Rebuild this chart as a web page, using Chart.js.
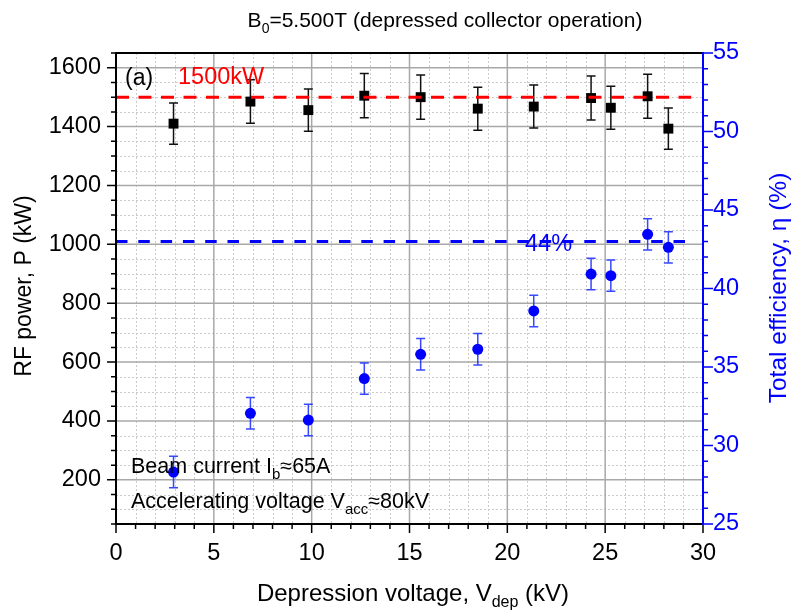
<!DOCTYPE html>
<html><head><meta charset="utf-8">
<script src="https://cdn.jsdelivr.net/npm/chart.js@4.4.1/dist/chart.umd.min.js"></script>
<style>html,body{margin:0;padding:0;background:#fff}canvas{display:block}</style>
</head><body>
<canvas id="c" width="794" height="613"></canvas>
<script>
// ---------- data ----------
const depVoltage   = [2.94, 6.87, 9.83, 12.69, 15.57, 18.49, 21.35, 24.28, 25.29, 27.17, 28.23];
const rfPower      = [1410, 1485, 1456, 1505, 1500, 1461, 1468, 1497, 1464, 1503, 1393];
const rfPowerErr   = [70, 74, 72, 75, 75, 73, 73, 75, 73, 75, 70];
const efficiency   = [28.31, 32.05, 31.62, 34.26, 35.81, 36.13, 38.57, 40.92, 40.82, 43.45, 42.62];
const efficiencyErr= [1.0, 1.0, 1.0, 1.0, 1.0, 1.0, 1.0, 1.0, 1.0, 1.0, 1.0];
const powerRef     = 1500;   // kW reference line
const effRef       = 43.0;   // efficiency reference line (labelled 44%)
const refLineX     = [0, 29.4];
const xTicks       = [0, 5, 10, 15, 20, 25, 30];
const yTicks       = [200, 400, 600, 800, 1000, 1200, 1400, 1600];
const y1Ticks      = [25, 30, 35, 40, 45, 50, 55];

const FONT = '"Liberation Sans", Arial, sans-serif';
const BLUE = '#0000ff';

function drawRich(ctx, parts, x, y, size, color, align) {
  const sub = Math.round(size * 0.68);
  let w = 0;
  parts.forEach(p => { ctx.font = (p[1] ? sub : size) + 'px ' + FONT; w += ctx.measureText(p[0]).width; });
  let cx = align === 'center' ? x - w / 2 : x;
  ctx.fillStyle = color;
  ctx.textAlign = 'left';
  ctx.textBaseline = 'alphabetic';
  parts.forEach(p => {
    ctx.font = (p[1] ? sub : size) + 'px ' + FONT;
    ctx.fillText(p[0], cx, p[1] ? y + size * 0.27 : y);
    cx += ctx.measureText(p[0]).width;
  });
}

const decor = {
  id: 'decor',
  beforeDatasetsDraw(chart) {
    const ctx = chart.ctx, a = chart.chartArea;
    const xs = chart.scales.x, ys = chart.scales.y, y1 = chart.scales.y1;
    ctx.save();
    // minor grid
    ctx.strokeStyle = '#cacaca'; ctx.lineWidth = 1; ctx.setLineDash([2, 2]);
    for (let v = 1; v < 30; v++) {
      if (v % 5 === 0) continue;
      const px = Math.round(xs.getPixelForValue(v)) + 0.5;
      ctx.beginPath(); ctx.moveTo(px, a.top); ctx.lineTo(px, a.bottom); ctx.stroke();
    }
    for (let v = 100; v < 1650; v += 50) {
      if (v % 200 === 0) continue;
      const py = Math.round(ys.getPixelForValue(v)) + 0.5;
      ctx.beginPath(); ctx.moveTo(a.left, py); ctx.lineTo(a.right, py); ctx.stroke();
    }
    // major grid
    ctx.setLineDash([]); ctx.strokeStyle = '#a8a8a8'; ctx.lineWidth = 1.5;
    for (let v = 5; v < 30; v += 5) {
      const px = xs.getPixelForValue(v);
      ctx.beginPath(); ctx.moveTo(px, a.top); ctx.lineTo(px, a.bottom); ctx.stroke();
    }
    yTicks.forEach(v => {
      const py = ys.getPixelForValue(v);
      ctx.beginPath(); ctx.moveTo(a.left, py); ctx.lineTo(a.right, py); ctx.stroke();
    });
    // error bars
    const bar = (xv, lo, hi, scale, color) => {
      const px = xs.getPixelForValue(xv), p1 = scale.getPixelForValue(lo), p2 = scale.getPixelForValue(hi);
      ctx.strokeStyle = color; ctx.lineWidth = 1.5;
      ctx.beginPath();
      ctx.moveTo(px, p1); ctx.lineTo(px, p2);
      ctx.moveTo(px - 4.5, p1); ctx.lineTo(px + 4.5, p1);
      ctx.moveTo(px - 4.5, p2); ctx.lineTo(px + 4.5, p2);
      ctx.stroke();
    };
    depVoltage.forEach((xv, i) => bar(xv, rfPower[i] - rfPowerErr[i], rfPower[i] + rfPowerErr[i], ys, '#111'));
    depVoltage.forEach((xv, i) => bar(xv, efficiency[i] - efficiencyErr[i], efficiency[i] + efficiencyErr[i], y1, 'rgba(20,40,255,0.85)'));
    ctx.restore();
  },
  afterDraw(chart) {
    const ctx = chart.ctx, a = chart.chartArea;
    const xs = chart.scales.x, ys = chart.scales.y, y1 = chart.scales.y1;
    ctx.save();
    // ticks
    ctx.lineWidth = 1.5; ctx.strokeStyle = '#000';
    ctx.beginPath();
    for (let v = 0; v <= 30; v++) {
      const px = xs.getPixelForValue(v), len = v % 5 === 0 ? 9 : 5;
      ctx.moveTo(px, a.bottom); ctx.lineTo(px, a.bottom + len);
    }
    for (let v = 50; v <= 1650; v += 50) {
      const py = ys.getPixelForValue(v), len = v % 200 === 0 ? 9 : 5;
      ctx.moveTo(a.left, py); ctx.lineTo(a.left - len, py);
    }
    ctx.stroke();
    ctx.strokeStyle = BLUE; ctx.beginPath();
    for (let v = 25; v <= 55; v++) {
      const py = y1.getPixelForValue(v), len = v % 5 === 0 ? 10 : 5;
      ctx.moveTo(a.right, py); ctx.lineTo(a.right + len, py);
    }
    ctx.stroke();
    // frame
    ctx.lineWidth = 2;
    ctx.strokeStyle = '#000';
    ctx.beginPath();
    ctx.moveTo(a.right, a.top); ctx.lineTo(a.left, a.top); ctx.lineTo(a.left, a.bottom); ctx.lineTo(a.right, a.bottom);
    ctx.stroke();
    ctx.strokeStyle = BLUE;
    ctx.beginPath(); ctx.moveTo(a.right, a.top - 1); ctx.lineTo(a.right, a.bottom + 1); ctx.stroke();

    // texts
    drawRich(ctx, [['B', 0], ['0', 1], ['=5.500T (depressed collector operation)', 0]], 445, 27, 21, '#000', 'center');
    drawRich(ctx, [['Depression voltage, V', 0], ['dep', 1], [' (kV)', 0]], 413, 601, 24, '#000', 'center');
    ctx.save(); ctx.translate(31, 286); ctx.rotate(-Math.PI / 2);
    drawRich(ctx, [['RF power, P (kW)', 0]], 0, 0, 23, '#000', 'center');
    ctx.restore();
    ctx.save(); ctx.translate(786, 288); ctx.rotate(-Math.PI / 2);
    drawRich(ctx, [['Total efficiency, \u03b7 (%)', 0]], 0, 0, 24.5, BLUE, 'center');
    ctx.restore();
    drawRich(ctx, [['(a)', 0]], 125, 85, 23, '#000', 'left');
    drawRich(ctx, [['1500kW', 0]], 178, 84, 23.5, '#ff0000', 'left');
    drawRich(ctx, [['44%', 0]], 525, 251, 23.5, BLUE, 'left');
    drawRich(ctx, [['Beam current I', 0], ['b', 1], ['\u224865A', 0]], 131, 473, 21.5, '#000', 'left');
    drawRich(ctx, [['Accelerating voltage V', 0], ['acc', 1], ['\u224880kV', 0]], 131, 508, 21.5, '#000', 'left');
    ctx.restore();
  }
};

const tickFont = { family: FONT, size: 23.5 };
const plain = v => String(v);
new Chart(document.getElementById('c'), {
  type: 'scatter',
  data: {
    datasets: [
      { type: 'line', data: refLineX.map(x => ({ x, y: powerRef })), yAxisID: 'y', borderColor: '#ff0000', borderWidth: 3,
        borderDash: [13, 9.5], pointRadius: 0, fill: false },
      { type: 'line', data: refLineX.map(x => ({ x, y: effRef })), yAxisID: 'y1', borderColor: BLUE, borderWidth: 3,
        borderDash: [11.5, 10.8], pointRadius: 0, fill: false },
      { data: depVoltage.map((x, i) => ({ x, y: rfPower[i] })), yAxisID: 'y', pointStyle: 'rect', pointRadius: 7,
        backgroundColor: '#000', borderColor: '#000', borderWidth: 0 },
      { data: depVoltage.map((x, i) => ({ x, y: efficiency[i] })), yAxisID: 'y1', pointStyle: 'circle', pointRadius: 5.5,
        backgroundColor: BLUE, borderColor: BLUE, borderWidth: 0 }
    ]
  },
  options: {
    responsive: false, animation: false, devicePixelRatio: 1,
    layout: { padding: { top: 53, left: 0, right: 0, bottom: 0 } },
    plugins: { legend: { display: false }, tooltip: { enabled: false }, title: { display: false } },
    scales: {
      x: { type: 'linear', position: 'bottom', min: 0, max: 30,
        afterBuildTicks: s => { s.ticks = xTicks.map(v => ({ value: v })); },
        afterFit: s => { s.height = 89; },
        grid: { display: false, drawTicks: false }, border: { display: false },
        ticks: { color: '#000', font: tickFont, padding: 15, maxRotation: 0, autoSkip: false, callback: plain } },
      y: { type: 'linear', position: 'left', min: 50, max: 1650,
        afterBuildTicks: s => { s.ticks = yTicks.map(v => ({ value: v })); },
        afterFit: s => { s.width = 116; },
        grid: { display: false, drawTicks: false }, border: { display: false },
        ticks: { color: '#000', font: tickFont, padding: 15, autoSkip: false, callback: plain } },
      y1: { type: 'linear', position: 'right', min: 25, max: 55,
        afterBuildTicks: s => { s.ticks = y1Ticks.map(v => ({ value: v })); },
        afterFit: s => { s.width = 91; },
        grid: { display: false, drawTicks: false }, border: { display: false },
        ticks: { color: BLUE, font: tickFont, padding: 10, autoSkip: false, callback: plain } }
    }
  },
  plugins: [decor]
});
</script>
</body></html>
